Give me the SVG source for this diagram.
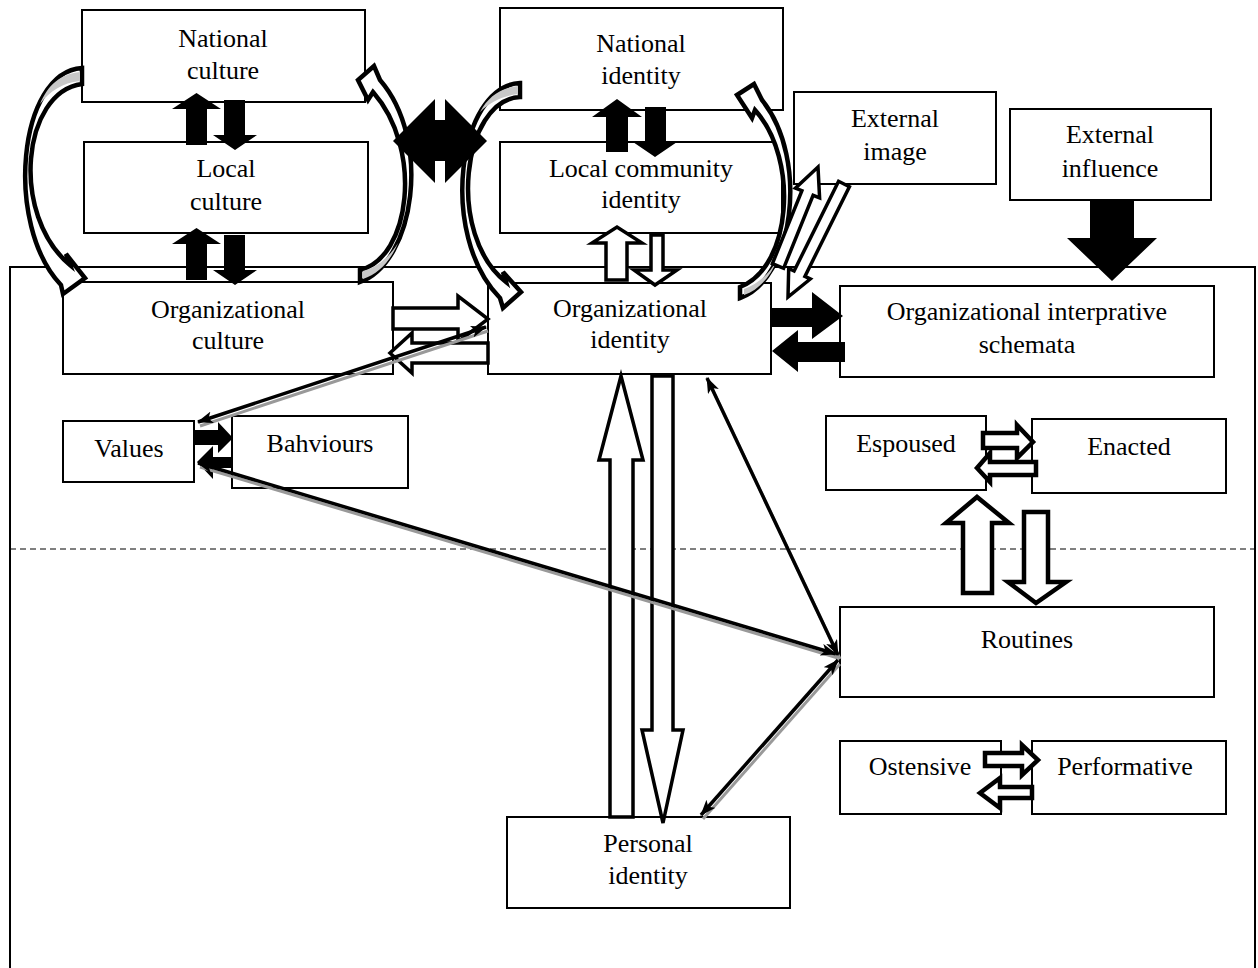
<svg xmlns="http://www.w3.org/2000/svg" width="1258" height="968" viewBox="0 0 1258 968">
<defs>
<style>
.box{fill:#fff;stroke:#000;stroke-width:2}
.t{font-family:"Liberation Serif","Times New Roman",serif;font-size:26px;text-anchor:middle;fill:#000}
.blk{fill:#000}
.hol{fill:#fff;stroke:#000;stroke-width:3.5;stroke-linejoin:miter}
.hol4{fill:#fff;stroke:#000;stroke-width:4.5;stroke-linejoin:miter}
.band{fill:#fff;stroke:#000;stroke-width:4.5;stroke-linejoin:miter}
.gray{fill:#c8c8c8}
.thin{stroke:#000;stroke-width:3.5;fill:none}
.shadow{stroke:#999;stroke-width:3;fill:none}
</style>
<marker id="ah" viewBox="0 0 16 12" refX="15" refY="6" markerWidth="16" markerHeight="12" markerUnits="userSpaceOnUse" orient="auto-start-reverse">
<path d="M0,0 L16,6 L0,12 L4,6 Z" fill="#000"/>
</marker>
</defs>
<rect width="1258" height="968" fill="#fff"/>
<g id="frame">
<path d="M10,968 V267 H1255 V968" fill="none" stroke="#000" stroke-width="2"/>
<line x1="10" y1="549" x2="1255" y2="549" stroke="#000" stroke-width="1" stroke-dasharray="6,4"/>
</g>
<g id="national-culture"><rect class="box" x="82" y="10" width="283" height="92"/><text class="t" x="223" y="47">National</text><text class="t" x="223" y="79">culture</text></g>
<g id="local-culture"><rect class="box" x="84" y="142" width="284" height="91"/><text class="t" x="226" y="177">Local</text><text class="t" x="226" y="210">culture</text></g>
<g id="organizational-culture"><rect class="box" x="63" y="282" width="330" height="92"/><text class="t" x="228" y="318">Organizational</text><text class="t" x="228" y="349">culture</text></g>
<g id="national-identity"><rect class="box" x="500" y="8" width="283" height="102"/><text class="t" x="641" y="52">National</text><text class="t" x="641" y="84">identity</text></g>
<g id="local-community-identity"><rect class="box" x="500" y="142" width="282" height="91"/><text class="t" x="641" y="177">Local community</text><text class="t" x="641" y="208">identity</text></g>
<g id="organizational-identity"><rect class="box" x="488" y="283" width="283" height="91"/><text class="t" x="630" y="317">Organizational</text><text class="t" x="630" y="348">identity</text></g>
<g id="external-image"><rect class="box" x="794" y="92" width="202" height="92"/><text class="t" x="895" y="127">External</text><text class="t" x="895" y="160">image</text></g>
<g id="external-influence"><rect class="box" x="1010" y="109" width="201" height="91"/><text class="t" x="1110" y="143">External</text><text class="t" x="1110" y="177">influence</text></g>
<g id="interpretive-schemata"><rect class="box" x="840" y="286" width="374" height="91"/><text class="t" x="1027" y="320">Organizational interprative</text><text class="t" x="1027" y="353">schemata</text></g>
<g id="values"><rect class="box" x="63" y="421" width="131" height="61"/><text class="t" x="129" y="457">Values</text></g>
<g id="bahviours"><rect class="box" x="232" y="416" width="176" height="72"/><text class="t" x="320" y="452">Bahviours</text></g>
<g id="espoused"><rect class="box" x="826" y="416" width="160" height="74"/><text class="t" x="906" y="452">Espoused</text></g>
<g id="enacted"><rect class="box" x="1032" y="419" width="194" height="74"/><text class="t" x="1129" y="455">Enacted</text></g>
<g id="routines"><rect class="box" x="840" y="607" width="374" height="90"/><text class="t" x="1027" y="648">Routines</text></g>
<g id="ostensive"><rect class="box" x="840" y="741" width="161" height="73"/><text class="t" x="920" y="775">Ostensive</text></g>
<g id="performative"><rect class="box" x="1032" y="741" width="194" height="73"/><text class="t" x="1125" y="775">Performative</text></g>
<g id="personal-identity"><rect class="box" x="507" y="817" width="283" height="91"/><text class="t" x="648" y="852">Personal</text><text class="t" x="648" y="884">identity</text></g>
<g id="connectors">
<path class="band" d="M82,68 C18,72 4,225 61,285 L63,294 L85,278 L66,254 L70,265 C10,215 22,92 82,84 Z"/>
<path class="gray" d="M80,72 C60,74 48,85 40,104 C50,91 62,83 80,81 Z"/>
<path class="band" d="M360,282 C415,262 432,140 380,80 L374,66 L358,80 L368,100 L373,92 C424,150 410,258 360,270 Z"/>
<path class="gray" d="M363,271 C378,267 390,256 398,243 C390,262 378,274 363,279 Z"/>
<path class="band" d="M520,83 C458,86 438,235 500,298 L503,308 L521,292 L503,272 L506,282 C446,235 462,100 520,97 Z"/>
<path class="gray" d="M518,86 C500,88 488,97 480,112 C490,102 503,96 518,94 Z"/>
<path class="band" d="M740,298 C793,280 810,160 762,100 L754,84 L737,95 L752,118 L755,110 C800,160 791,268 740,287 Z"/>
<path class="gray" d="M744,289 C758,284 770,273 777,260 C771,276 759,290 744,295 Z"/>
<polygon class="blk" points="393,141 435,99 435,120 445,120 445,99 487,141 445,183 445,161 435,161 435,183"/>
<polygon class="blk" points="186,145 186,109 172,109 196.5,93 221,109 207,109 207,145"/>
<polygon class="blk" points="224,100 245,100 245,135 257,135 235,150 213,135 224,135"/>
<polygon class="blk" points="186,280 186,244 172,244 196.5,228 221,244 207,244 207,280"/>
<polygon class="blk" points="224,235 245,235 245,270 257,270 235,285 213,270 224,270"/>
<polygon class="blk" points="606,152 606,117 592,117 617,99 642,117 628,117 628,152"/>
<polygon class="blk" points="645,107 666,107 666,142 677,142 655,157 633,142 645,142"/>
<polygon class="blk" points="772,308 812,308 812,292 843,316 812,339 812,327 772,327"/>
<polygon class="blk" points="845,342 798,342 798,330 772,351 798,372 798,362 845,362"/>
<polygon class="blk" points="1090,200 1134,200 1134,238 1157,238 1112,281 1067,238 1090,238"/>
<polygon class="blk" points="195,430 218,430 218,422 233,438 218,453 218,445 195,445"/>
<polygon class="blk" points="232,457 213,457 213,446 197,462 213,479 213,468 232,468"/>
<polygon class="hol" points="606,280 606,243 592,243 617,227 642,243 627,243 627,280"/>
<polygon class="hol" points="651,235 663,235 663,270 677,270 655,285 634,270 651,270"/>
<polygon class="hol" points="393,308 458,308 458,296 488,319 458,342 458,329 393,329"/>
<polygon class="hol" points="488,343 412,343 412,333 390,353 412,373 412,363 488,363"/>
<polygon class="hol" points="772.4,263.7 801.9,190.7 795.4,188.1 818,167 819.6,197.9 813.1,195.3 783.6,268.3"/>
<polygon class="hol" points="838.6,181.3 794.1,271 788.7,268.4 788,297 810.3,279 804.9,276.4 849.4,186.7"/>
<polygon class="hol" points="610,817 610,460 599,460 621,376 643,460 633,460 633,817"/>
<polygon class="hol" points="652,376 673,376 673,730 683,730 663,823 642,730 652,730"/>
<polygon class="hol4" points="983,433 1017,433 1017,425 1033,442 1017,458 1017,448 983,448"/>
<polygon class="hol4" points="1036,462 990,462 990,453 977,468 990,482 990,475 1036,475"/>
<polygon class="hol4" points="963,593 963,523 946,523 977,497 1009,523 992,523 992,593"/>
<polygon class="hol4" points="1024,512 1048,512 1048,582 1066,582 1036,603 1008,582 1024,582"/>
<polygon class="hol4" points="985,753 1022,753 1022,745 1038,760 1022,775 1022,766 985,766"/>
<polygon class="hol4" points="1032,787 1000,787 1000,778 980,793 1000,808 1000,798 1032,798"/>
<line class="shadow" x1="709" y1="382" x2="840" y2="659"/>
<line class="shadow" x1="840" y1="664" x2="703" y2="819"/>
<line class="shadow" x1="200" y1="467" x2="838" y2="658"/>
<line class="shadow" x1="200" y1="426" x2="488" y2="331"/>
<line class="thin" x1="707" y1="378" x2="838" y2="655" marker-start="url(#ah)" marker-end="url(#ah)"/>
<line class="thin" x1="838" y1="660" x2="701" y2="815" marker-start="url(#ah)" marker-end="url(#ah)"/>
<line class="thin" x1="198" y1="463" x2="836" y2="654" marker-start="url(#ah)" marker-end="url(#ah)"/>
<line class="thin" x1="198" y1="422" x2="486" y2="327" marker-start="url(#ah)" marker-end="url(#ah)"/>
</g>
</svg>
